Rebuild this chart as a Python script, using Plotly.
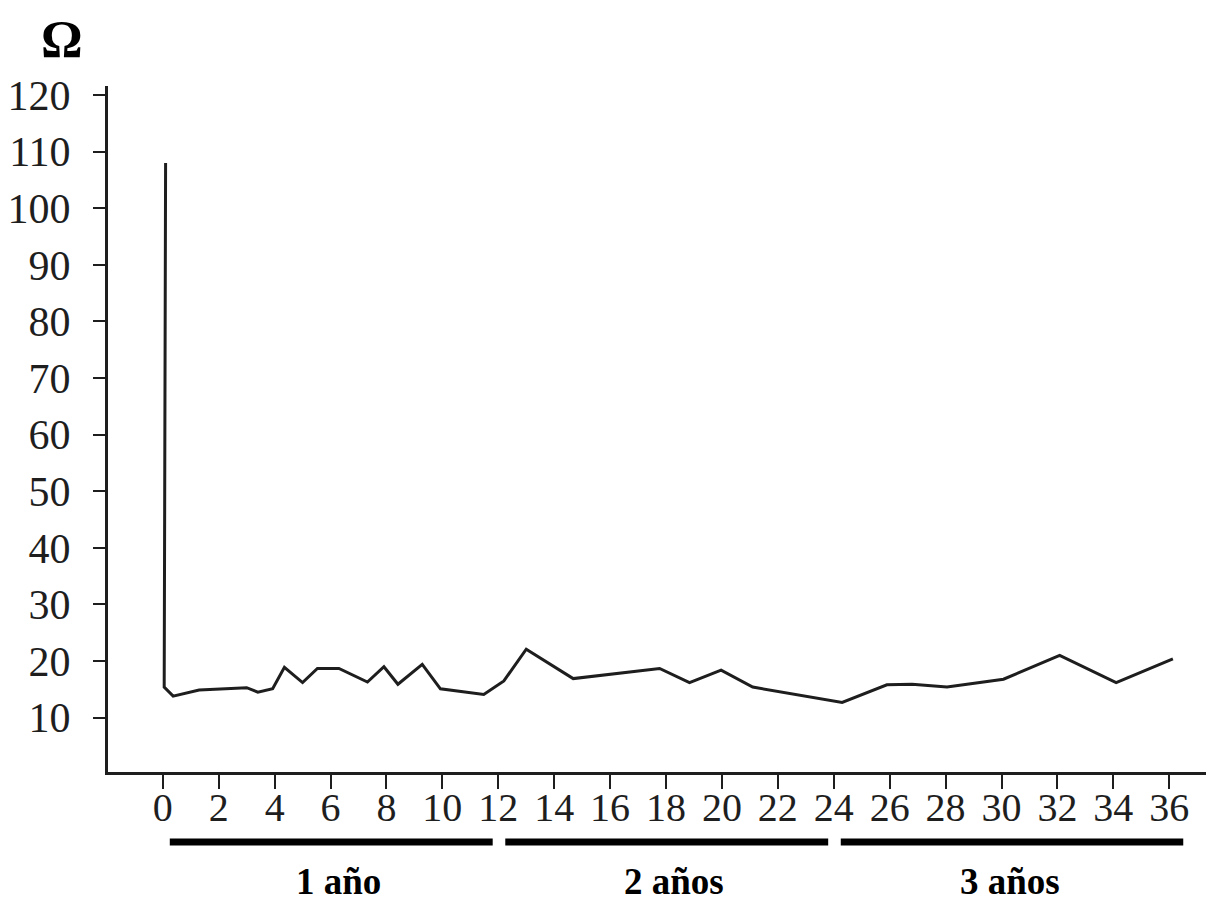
import plotly.graph_objects as go

# Data
months = [0.1, 0.05, 0.37, 1.3, 3.0, 3.4, 3.93, 4.35, 5.0, 5.53, 6.3, 7.32, 7.91, 8.41,
          9.28, 9.93, 11.48, 12.2, 13.0, 14.68, 17.77, 18.84, 19.97, 21.1, 24.3,
          25.9, 26.8, 28.05, 30.07, 32.08, 34.1, 36.13]
ohms = [108.0, 15.4, 13.8, 14.9, 15.3, 14.5, 15.1, 18.9, 16.2, 18.7, 18.7, 16.3, 19.0, 15.9,
        19.4, 15.1, 14.1, 16.5, 22.1, 16.9, 18.7, 16.2, 18.4, 15.4, 12.7,
        15.8, 15.9, 15.4, 16.8, 21.0, 16.2, 20.4]

x_ticks = list(range(0, 37, 2))
y_ticks = list(range(10, 121, 10))

group_labels = ["1 año", "2 años", "3 años"]
group_start = [0, 12, 24]
group_end = [12, 24, 36]

SERIF = "Liberation Serif, Times New Roman, serif"

fig = go.Figure()
fig.add_trace(go.Scatter(
    x=months, y=ohms, mode="lines",
    line=dict(color="#1e1e1e", width=3),
    showlegend=False, hoverinfo="x+y",
))

shapes = []
annotations = []
for lab, s, e in zip(group_labels, group_start, group_end):
    x0 = s + 0.25
    x1 = e - 0.2 if e < 36 else e + 0.5
    shapes.append(dict(type="line", xref="x", yref="paper", x0=x0, x1=x1,
                       y0=-0.102, y1=-0.102, line=dict(color="black", width=7)))
    annotations.append(dict(text="<b>" + lab + "</b>", xref="x", yref="paper",
                            x=(s + e) / 2 + 0.3, y=-0.193, showarrow=False,
                            xanchor="center", yanchor="bottom",
                            font=dict(family=SERIF, size=37, color="black")))

annotations.append(dict(text="<b>Ω</b>", xref="paper", yref="paper",
                        x=-0.042, y=1.068, showarrow=False,
                        xanchor="center", yanchor="middle",
                        font=dict(family=SERIF, size=52, color="black")))

fig.update_layout(
    width=1206, height=895,
    margin=dict(l=95, r=0, t=78, b=131),
    paper_bgcolor="white", plot_bgcolor="white",
    shapes=shapes, annotations=annotations,
    xaxis=dict(range=[-1.96, 37.6], tickvals=x_ticks, ticktext=[str(v) for v in x_ticks],
               showgrid=False, zeroline=False, showline=True, linecolor="#1e1e1e", linewidth=3,
               ticks="outside", ticklen=14, tickwidth=2, tickcolor="#1e1e1e",
               tickfont=dict(family=SERIF, size=40, color="#1e1e1e"), ticklabelstandoff=-16),
    yaxis=dict(range=[0.4, 121.6], tickvals=y_ticks, ticktext=[str(v) for v in y_ticks],
               showgrid=False, zeroline=False, showline=True, linecolor="#1e1e1e", linewidth=3,
               ticks="outside", ticklen=12, tickwidth=2, tickcolor="#1e1e1e",
               tickfont=dict(family=SERIF, size=42, color="#1e1e1e"), ticklabelstandoff=14),
)

fig.write_html("out.html")
